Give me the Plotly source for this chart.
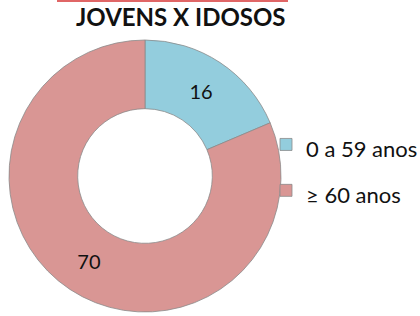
import plotly.graph_objects as go

labels = ["0 a 59 anos", "≥ 60 anos"]
values = [16, 70]
colors = ["#93CDDD", "#D99694"]
title = "JOVENS X IDOSOS"

W, H = 420, 316
cx, cy, r = 145, 176, 136

fig = go.Figure(go.Pie(
    labels=[f'<span style="font-size:22px">{l}</span>' for l in labels],
    values=values,
    hole=0.495,
    sort=False,
    direction="clockwise",
    rotation=0,
    marker=dict(colors=colors, line=dict(color="#8a8a8a", width=0.8)),
    textinfo="value",
    textposition="inside",
    insidetextorientation="horizontal",
    textfont=dict(family="Lato", size=20, color="#111111"),
    domain=dict(x=[(cx - r) / W, (cx + r) / W], y=[max(0, 1 - (cy + r) / H), 1 - (cy - r) / H]),
    hoverinfo="skip",
))

fig.update_layout(
    width=W, height=H,
    margin=dict(l=0, r=0, t=0, b=0, autoexpand=False),
    paper_bgcolor="white",
    plot_bgcolor="white",
    showlegend=True,
    legend=dict(x=266 / W, y=1 - 167.5 / H, xanchor="left", yanchor="middle",
                font=dict(family="Lato", size=33, color="#111111"),
                itemwidth=30, bgcolor="rgba(0,0,0,0)"),
    annotations=[dict(text=f"<b>{title}</b>", x=181 / W, y=1 - 16 / H, xref="paper", yref="paper",
                      showarrow=False, font=dict(family="Lato", size=24, color="#111111"),
                      xanchor="center", yanchor="middle")],
    shapes=[dict(type="line", xref="paper", yref="paper", x0=57 / W, x1=288 / W,
                 y0=1 - 1 / H, y1=1 - 1 / H, line=dict(color="#E06666", width=2))],
)

fig.write_html("out.html")
